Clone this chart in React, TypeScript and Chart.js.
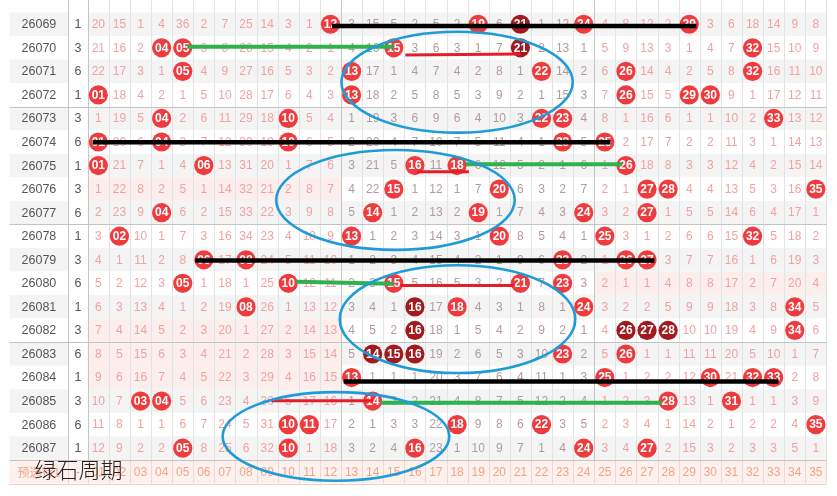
import React, { useEffect, useRef } from "react";
import { Chart, registerables } from "chart.js";

Chart.register(...registerables);

// ---------- data ----------
const periods = [
  "26069", "26070", "26071", "26072", "26073", "26074", "26075", "26076", "26077", "26078",
  "26079", "26080", "26081", "26082", "26083", "26084", "26085", "26086", "26087",
];

const sideValues = [1, 3, 6, 1, 3, 6, 1, 3, 6, 1, 3, 6, 1, 3, 6, 1, 3, 6, 1];

const numberLabels = [
  "01", "02", "03", "04", "05", "06", "07", "08", "09", "10", "11", "12",
  "13", "14", "15", "16", "17", "18", "19", "20", "21", "22", "23", "24",
  "25", "26", "27", "28", "29", "30", "31", "32", "33", "34", "35",
];

// omission count per number per period (0 = drawn in that period)
const omission: number[][] = [
  [20, 15, 1, 4, 36, 2, 7, 25, 14, 3, 1, 0, 3, 15, 5, 2, 5, 2, 0, 6, 0, 1, 12, 0, 4, 8, 12, 2, 0, 3, 6, 18, 14, 9, 8],
  [21, 16, 2, 0, 0, 3, 8, 26, 15, 4, 2, 1, 4, 16, 0, 3, 6, 3, 1, 7, 0, 2, 13, 1, 5, 9, 13, 3, 1, 4, 7, 0, 15, 10, 9],
  [22, 17, 3, 1, 0, 4, 9, 27, 16, 5, 3, 2, 0, 17, 1, 4, 7, 4, 2, 8, 1, 0, 14, 2, 6, 0, 14, 4, 2, 5, 8, 0, 16, 11, 10],
  [0, 18, 4, 2, 1, 5, 10, 28, 17, 6, 4, 3, 0, 18, 2, 5, 8, 5, 3, 9, 2, 1, 15, 3, 7, 0, 15, 5, 0, 0, 9, 1, 17, 12, 11],
  [1, 19, 5, 0, 2, 6, 11, 29, 18, 0, 5, 4, 1, 19, 3, 6, 9, 6, 4, 10, 3, 0, 0, 4, 8, 1, 16, 6, 1, 1, 10, 2, 0, 13, 12],
  [0, 20, 6, 0, 3, 7, 12, 30, 19, 0, 6, 5, 2, 20, 4, 7, 10, 7, 5, 11, 4, 1, 0, 5, 0, 2, 17, 7, 2, 2, 11, 3, 1, 14, 13],
  [0, 21, 7, 1, 4, 0, 13, 31, 20, 1, 7, 6, 3, 21, 5, 0, 11, 0, 6, 12, 5, 2, 1, 6, 1, 0, 18, 8, 3, 3, 12, 4, 2, 15, 14],
  [1, 22, 8, 2, 5, 1, 14, 32, 21, 2, 8, 7, 4, 22, 0, 1, 12, 1, 7, 0, 6, 3, 2, 7, 2, 1, 0, 0, 4, 4, 13, 5, 3, 16, 0],
  [2, 23, 9, 0, 6, 2, 15, 33, 22, 3, 9, 8, 5, 0, 1, 2, 13, 2, 0, 1, 7, 4, 3, 0, 3, 2, 0, 1, 5, 5, 14, 6, 4, 17, 1],
  [3, 0, 10, 1, 7, 3, 16, 34, 23, 4, 10, 9, 0, 1, 2, 3, 14, 3, 1, 0, 8, 5, 4, 1, 0, 3, 1, 2, 6, 6, 15, 0, 5, 18, 2],
  [4, 1, 11, 2, 8, 0, 17, 0, 24, 5, 11, 10, 1, 2, 3, 4, 15, 4, 2, 1, 9, 6, 0, 2, 1, 0, 0, 3, 7, 7, 16, 1, 6, 19, 3],
  [5, 2, 12, 3, 0, 1, 18, 1, 25, 0, 12, 11, 2, 3, 0, 5, 16, 5, 3, 2, 0, 7, 0, 3, 2, 1, 1, 4, 8, 8, 17, 2, 7, 20, 4],
  [6, 3, 13, 4, 1, 2, 19, 0, 26, 1, 13, 12, 3, 4, 1, 0, 17, 0, 4, 3, 1, 8, 1, 0, 3, 2, 2, 5, 9, 9, 18, 3, 8, 0, 5],
  [7, 4, 14, 5, 2, 3, 20, 1, 27, 2, 14, 13, 4, 5, 2, 0, 18, 1, 5, 4, 2, 9, 2, 1, 4, 0, 0, 0, 10, 10, 19, 4, 9, 0, 6],
  [8, 5, 15, 6, 3, 4, 21, 2, 28, 3, 15, 14, 5, 0, 0, 0, 19, 2, 6, 5, 3, 10, 0, 2, 5, 0, 1, 1, 11, 11, 20, 5, 10, 1, 7],
  [9, 6, 16, 7, 4, 5, 22, 3, 29, 4, 16, 15, 0, 1, 1, 1, 20, 3, 7, 6, 4, 11, 1, 3, 0, 1, 2, 2, 12, 0, 21, 0, 0, 2, 8],
  [10, 7, 0, 0, 5, 6, 23, 4, 30, 5, 17, 16, 1, 0, 2, 2, 21, 4, 8, 7, 5, 12, 2, 4, 1, 2, 3, 0, 13, 1, 0, 1, 1, 3, 9],
  [11, 8, 1, 1, 6, 7, 24, 5, 31, 0, 0, 17, 2, 1, 3, 3, 22, 0, 9, 8, 6, 0, 3, 5, 2, 3, 4, 1, 14, 2, 1, 2, 2, 4, 0],
  [12, 9, 2, 2, 0, 8, 25, 6, 32, 0, 1, 18, 3, 2, 4, 0, 23, 1, 10, 9, 7, 1, 4, 0, 3, 4, 0, 2, 15, 3, 2, 3, 3, 5, 1],
];

// hits shown in dark red: [period index, number]
const darkHits: [number, number][] = [
  [0, 21], [1, 21], [12, 16], [13, 16], [13, 26], [13, 27], [13, 28], [14, 14], [14, 15], [14, 16],
];

// hand-drawn strokes: row (period index, may be fractional), from/to in number units
const blackLines = [
  { r1: 0.07, r2: 0.07, from: 12.07, to: 29.34 },
  { r1: 5.01, r2: 5.01, from: 0.73, to: 25.27 },
  { r1: 10.03, r2: 10.03, from: 5.59, to: 27.35 },
  { r1: 15.17, r2: 15.17, from: 12.63, to: 33.23 },
];
const greenLines = [
  { r1: 0.95, r2: 0.95, from: 5.22, to: 14.99 },
  { r1: 5.94, r2: 5.94, from: 18.42, to: 25.82 },
  { r1: 10.93, r2: 11.02, from: 10.36, to: 14.99 },
  { r1: 16.07, r2: 16.07, from: 14.39, to: 27.68 },
];
const redLines = [
  { r1: 1.3, r2: 1.26, from: 15.55, to: 21.0 },
  { r1: 6.26, r2: 6.26, from: 16.1, to: 18.56 },
  { r1: 11.09, r2: 11.09, from: 15.31, to: 20.73 },
  { r1: 15.99, r2: 15.99, from: 9.2, to: 14.02 },
];
const ellipses = [
  { cx: 18.0, cy: 2.46, rx: 5.48, ry: 2.14 },
  { cx: 15.08, cy: 7.46, rx: 5.65, ry: 2.12 },
  { cx: 18.02, cy: 12.52, rx: 5.58, ry: 2.29 },
  { cx: 12.26, cy: 17.5, rx: 5.37, ry: 1.88 },
];

const footerLabel = "预选行1";
const footerSide = "-";
const watermark = "绿石周期";

// ---------- layout / style ----------
const W = 837;
const H = 496;
const COL_W = 21.6;
const GRID_LEFT = 80;
const PERIOD_W = 60;
const TOP = 3;
const ROW_H = 24.5;
const X_MIN = 0.5 - GRID_LEFT / COL_W;
const X_MAX = 0.5 + (W - GRID_LEFT) / COL_W;
const Y_MIN = -0.5 - TOP / ROW_H;
const Y_MAX = -0.5 + (H - TOP) / ROW_H;
const ZONES: [number, number][] = [[1, 12], [13, 24], [25, 35]];

const RED = "#ef3b3d";
const DARK = "#a01a1f";
const NUM_FONT = "12px 'Liberation Sans', Arial, sans-serif";

const isDark = (r: number, n: number) => darkHits.some(([a, b]) => a === r && b === n);

const tablePlugin = {
  id: "lotteryTable",
  beforeDatasetsDraw(chart: any) {
    const { ctx } = chart;
    const xs = chart.scales.x;
    const ys = chart.scales.y;
    const px = (v: number) => xs.getPixelForValue(v);
    const py = (v: number) => ys.getPixelForValue(v);
    const nRows = periods.length;
    const xL = px(X_MIN);
    const xPR = px(0.5 - (GRID_LEFT - PERIOD_W) / COL_W);
    const xNR = px(0.5);
    const xE = px(35.5);
    const yFootB = py(nRows + 0.5);
    ctx.save();
    ctx.fillStyle = "#ffffff";
    ctx.fillRect(0, 0, chart.width, chart.height);

    // row backgrounds
    for (let r = 0; r < nRows; r++) {
      const t = py(r - 0.5);
      const b = py(r + 0.5);
      ctx.fillStyle = r % 2 === 0 ? "#f4f4f4" : "#ffffff";
      ctx.fillRect(xL, t, xPR - xL, b - t);
      ctx.fillRect(xNR, t, xE - xNR, b - t);
      for (const [a, z] of ZONES) {
        let any = false;
        for (let n = a; n <= z; n++) if (omission[r][n - 1] === 0) any = true;
        if (!any) {
          ctx.fillStyle = "#fdeeee";
          ctx.fillRect(px(a - 0.5), t, px(z + 0.5) - px(a - 0.5), b - t);
        }
      }
    }
    // footer background
    {
      const t = py(nRows - 0.5);
      const b = py(nRows + 0.5);
      ctx.fillStyle = "#fdf1ed";
      ctx.fillRect(xL, t, xE - xL, b - t);
    }

    // vertical grid
    const vline = (x: number, y0: number, y1: number, color: string) => {
      const xx = Math.round(x) + 0.5;
      ctx.strokeStyle = color;
      ctx.lineWidth = 1;
      ctx.beginPath();
      ctx.moveTo(xx, y0);
      ctx.lineTo(xx, y1);
      ctx.stroke();
    };
    const yFootT = py(nRows - 0.5);
    vline(xPR, 0, yFootT, "#c8c8c8");
    vline(xPR, yFootT, yFootB, "#f0d0c6");
    for (let k = 0; k <= 35; k++) {
      const strong = k === 0 || k === 12 || k === 24;
      vline(px(k + 0.5), 0, yFootT, strong ? "#c6c6c6" : "#e3e3e3");
      vline(px(k + 0.5), yFootT, yFootB, "#f2d8cf");
    }
    // horizontal group separators
    const hline = (y: number, color: string) => {
      const yy = Math.round(y) + 0.5;
      ctx.strokeStyle = color;
      ctx.lineWidth = 1;
      ctx.beginPath();
      ctx.moveTo(xL, yy);
      ctx.lineTo(xE, yy);
      ctx.stroke();
    };
    for (let r = 0; r < nRows; r++) {
      if (periods[r].endsWith("2") || periods[r].endsWith("7")) hline(py(r + 0.5), "#c4c4c4");
    }
    hline(yFootB, "#f0d0c6");

    // texts
    ctx.textAlign = "center";
    ctx.textBaseline = "middle";
    const pc = (xL + xPR) / 2;
    const nc = (xPR + xNR) / 2;
    for (let r = 0; r < nRows; r++) {
      const y = py(r) + 0.5;
      ctx.font = "12.5px 'Liberation Sans', Arial, sans-serif";
      ctx.fillStyle = "#555555";
      ctx.fillText(periods[r], pc, y);
      ctx.fillText(String(sideValues[r]), nc, y);
      ctx.font = NUM_FONT;
      for (let n = 1; n <= 35; n++) {
        const v = omission[r][n - 1];
        if (v === 0) continue;
        ctx.fillStyle = n >= 13 && n <= 24 ? "#b39b9b" : "#f1a2a2";
        ctx.fillText(String(v), px(n), y);
      }
    }
    {
      const y = py(nRows) + 0.5;
      ctx.fillStyle = "#f2a488";
      ctx.font = "12px 'Noto Sans CJK SC', sans-serif";
      ctx.fillText(footerLabel, pc, y);
      ctx.font = NUM_FONT;
      ctx.fillText(footerSide, nc, y);
      for (let n = 1; n <= 35; n++) ctx.fillText(numberLabels[n - 1], px(n), y);
    }
    ctx.restore();
  },
  afterDatasetDraw(chart: any, args: any) {
    if (args.index !== 0) return;
    const { ctx } = chart;
    const xs = chart.scales.x;
    const ys = chart.scales.y;
    ctx.save();
    ctx.textAlign = "center";
    ctx.textBaseline = "middle";
    ctx.fillStyle = "#ffffff";
    ctx.font = "bold 12px 'Liberation Sans', Arial, sans-serif";
    omission.forEach((row, r) =>
      row.forEach((v, c) => {
        if (v === 0) ctx.fillText(numberLabels[c], xs.getPixelForValue(c + 1), ys.getPixelForValue(r) + 0.5);
      })
    );
    ctx.restore();
  },
  afterDatasetsDraw(chart: any) {
    const { ctx } = chart;
    const xs = chart.scales.x;
    const ys = chart.scales.y;
    ctx.save();
    ctx.strokeStyle = "#1f9bd8";
    ctx.lineWidth = 2.6;
    for (const e of ellipses) {
      const cx = xs.getPixelForValue(e.cx);
      const cy = ys.getPixelForValue(e.cy);
      const rx = Math.abs(xs.getPixelForValue(e.cx + e.rx) - cx);
      const ry = Math.abs(ys.getPixelForValue(e.cy + e.ry) - cy);
      ctx.beginPath();
      ctx.ellipse(cx, cy, rx, ry, 0, 0, Math.PI * 2);
      ctx.stroke();
    }
    ctx.fillStyle = "#222222";
    ctx.font = "300 22px 'Noto Sans CJK SC', sans-serif";
    ctx.textAlign = "left";
    ctx.textBaseline = "middle";
    ctx.fillText(watermark, xs.getPixelForValue(X_MIN) + 25, ys.getPixelForValue(18.92));
    ctx.restore();
  },
};

export default function App() {
  const ref = useRef<HTMLCanvasElement>(null);
  useEffect(() => {
    document.body.style.margin = "0";
    const canvas = ref.current;
    if (!canvas) return;
    const hitPoints: { x: number; y: number }[] = [];
    const hitColors: string[] = [];
    omission.forEach((row, r) =>
      row.forEach((v, c) => {
        if (v === 0) {
          hitPoints.push({ x: c + 1, y: r });
          hitColors.push(isDark(r, c + 1) ? DARK : RED);
        }
      })
    );
    const mk = (l: { r1: number; r2: number; from: number; to: number }, color: string, width: number) => ({
      type: "line" as const,
      data: [
        { x: l.from, y: l.r1 },
        { x: l.to, y: l.r2 },
      ],
      borderColor: color,
      borderWidth: width,
      pointRadius: 0,
      showLine: true,
      fill: false,
      tension: 0,
      borderCapStyle: "butt" as const,
      order: 1,
    });
    const datasets: any[] = [
      {
        type: "scatter",
        data: hitPoints,
        pointRadius: 9.6,
        pointBackgroundColor: hitColors,
        pointBorderWidth: 0,
        pointBorderColor: hitColors,
        order: 5,
      },
      ...redLines.map((l) => mk(l, "#e31e2a", 3)),
      ...greenLines.map((l) => mk(l, "#2db24d", 4)),
      ...blackLines.map((l) => mk(l, "#000000", 4.5)),
    ];
    const chart = new Chart(canvas, {
      type: "scatter",
      data: { datasets },
      options: {
        animation: false,
        responsive: false,
        events: [],
        layout: { padding: 0 },
        plugins: { legend: { display: false }, tooltip: { enabled: false } },
        scales: {
          x: { type: "linear", display: false, min: X_MIN, max: X_MAX },
          y: { type: "linear", display: false, reverse: true, min: Y_MIN, max: Y_MAX },
        },
      },
      plugins: [tablePlugin],
    } as any);
    return () => chart.destroy();
  }, []);
  return (
    <div style={{ width: W, height: H }}>
      <canvas ref={ref} width={W} height={H} style={{ display: "block" }} />
    </div>
  );
}
